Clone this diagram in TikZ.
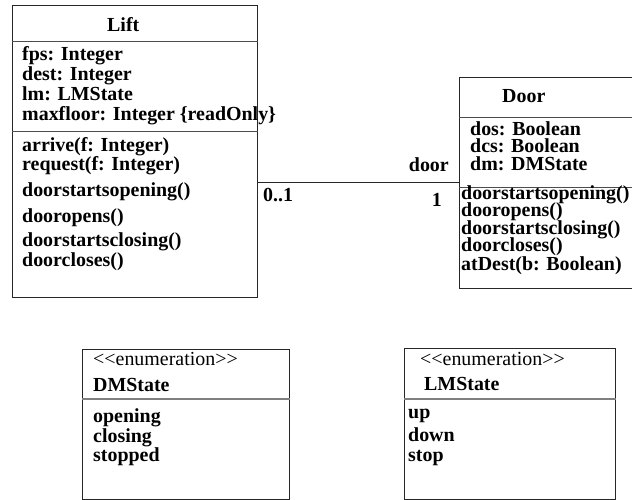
\documentclass[tikz,border=0pt]{standalone}
\usepackage{fontspec}
\setmainfont{Liberation Serif}
\begin{document}
\begin{tikzpicture}[x=1bp,y=-1bp,
  umlbox/.style={draw=black!85,line width=0.9bp,inner sep=0pt,anchor=north west},
  sepline/.style={draw=black!70,line width=0.9bp},
  enumsep/.style={draw=black!50,line width=1.3bp},
  assoc/.style={draw=black!85,line width=0.9bp},
  lbl/.style={inner sep=0pt,anchor=base west,font=\fontsize{20}{20}\selectfont\bfseries},
  lblr/.style={inner sep=0pt,anchor=base east,font=\fontsize{20}{20}\selectfont\bfseries},
  stereo/.style={inner sep=0pt,anchor=base west,font=\fontsize{20}{20}\selectfont}]
\useasboundingbox[fill=white] (0,0) rectangle (632,500);

% class boxes
\node[umlbox,minimum width=245bp,minimum height=292bp] (lift) at (12,5) {};
\node[umlbox,minimum width=190bp,minimum height=211bp] (door) at (459,77) {};
\node[umlbox,minimum width=207bp,minimum height=150bp] (dms) at (82,349) {};
\node[umlbox,minimum width=211bp,minimum height=151bp] (lms) at (404,348) {};

% compartments
\draw[sepline] (lift.west |- 0,41) -- (lift.east |- 0,41);
\draw[sepline] (lift.west |- 0,131) -- (lift.east |- 0,131);
\draw[sepline] (door.west |- 0,117) -- (door.east |- 0,117);
\draw[sepline] (door.west |- 0,187) -- (door.east |- 0,187);
\draw[enumsep] (dms.west |- 0,399) -- (dms.east |- 0,399);
\draw[enumsep] (lms.west |- 0,399) -- (lms.east |- 0,399);

% association Lift -- Door
\draw[assoc] (lift.east |- 0,182.5) -- (door.west |- 0,182.5);
\node[lbl] (m01) at (263,202) {0..1};
\node[lblr] (rolename) at (449,172) {door};
\node[lblr] (m1) at (442,207) {1};

% Lift
\node[lbl] (liftname) at (107,32) {Lift};
\node[lbl] (la1) at (22,61) {fps: Integer};
\node[lbl] (la2) at (22,81) {dest: Integer};
\node[lbl] (la3) at (22,101) {lm: LMState};
\node[lbl] (la4) at (22,121) {maxfloor: Integer \{readOnly\}};
\node[lbl] (lo1) at (22,152) {arrive(f: Integer)};
\node[lbl] (lo2) at (22,171) {request(f: Integer)};
\node[lbl] (lo3) at (22,197) {doorstartsopening()};
\node[lbl] (lo4) at (22,223) {dooropens()};
\node[lbl] (lo5) at (22,247) {doorstartsclosing()};
\node[lbl] (lo6) at (22,266) {doorcloses()};

% Door
\node[lbl] (doorname) at (502,103) {Door};
\node[lbl] (da1) at (470,136) {dos: Boolean};
\node[lbl] (da2) at (470,153) {dcs: Boolean};
\node[lbl] (da3) at (470,171) {dm: DMState};
\node[lbl] (do1) at (461,200) {doorstartsopening()};
\node[lbl] (do2) at (461,217) {dooropens()};
\node[lbl] (do3) at (461,235) {doorstartsclosing()};
\node[lbl] (do4) at (461,252) {doorcloses()};
\node[lbl] (do5) at (461,270) {atDest(b: Boolean)};

% DMState
\node[stereo] (dmster) at (93,365) {<\kern0pt<enumeration>\kern0pt>};
\node[lbl] (dmname) at (93,391) {DMState};
\node[lbl] (dm1) at (93,422) {opening};
\node[lbl] (dm2) at (93,442) {closing};
\node[lbl] (dm3) at (93,461) {stopped};

% LMState
\node[stereo] (lmster) at (420,365) {<\kern0pt<enumeration>\kern0pt>};
\node[lbl] (lmname) at (424,390) {LMState};
\node[lbl] (lm1) at (408,418) {up};
\node[lbl] (lm2) at (408,441) {down};
\node[lbl] (lm3) at (408,461) {stop};
\end{tikzpicture}
\end{document}
